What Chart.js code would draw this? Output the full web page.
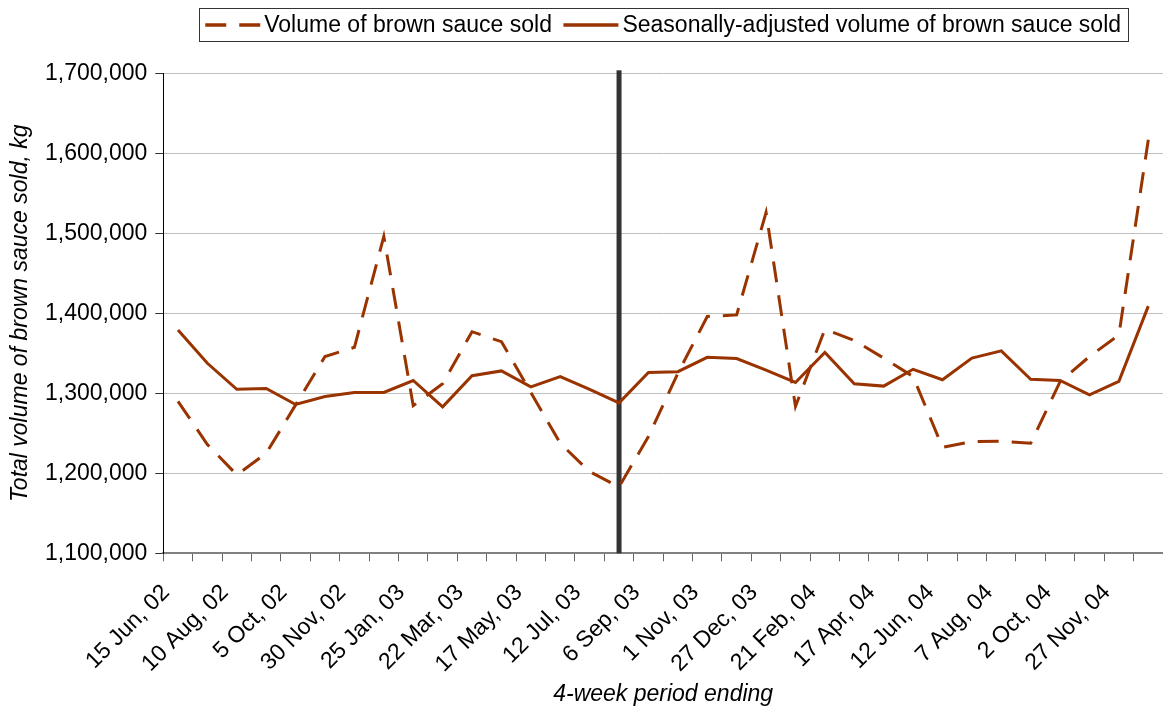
<!DOCTYPE html>
<html>
<head>
<meta charset="utf-8">
<script src="https://cdn.jsdelivr.net/npm/chart.js@4.4.1/dist/chart.umd.min.js"></script>
<style>
  html, body { margin: 0; padding: 0; background: #ffffff; }
  #wrap { width: 1163px; height: 709px; position: relative; }
</style>
</head>
<body>
<div id="wrap"><canvas id="c" width="1163" height="709"></canvas></div>
<script>
// ---- Data ----
const periods = [
  '15 Jun, 02', '13 Jul, 02', '10 Aug, 02', '7 Sep, 02', '5 Oct, 02', '2 Nov, 02',
  '30 Nov, 02', '28 Dec, 02', '25 Jan, 03', '22 Feb, 03', '22 Mar, 03', '19 Apr, 03',
  '17 May, 03', '14 Jun, 03', '12 Jul, 03', '9 Aug, 03', '6 Sep, 03', '4 Oct, 03',
  '1 Nov, 03', '29 Nov, 03', '27 Dec, 03', '24 Jan, 04', '21 Feb, 04', '20 Mar, 04',
  '17 Apr, 04', '15 May, 04', '12 Jun, 04', '10 Jul, 04', '7 Aug, 04', '4 Sep, 04',
  '2 Oct, 04', '30 Oct, 04', '27 Nov, 04', '25 Dec, 04'
];
const volumeSold = [
  1290000, 1236000, 1198000, 1225000, 1285500, 1346000, 1357500, 1496000, 1284500, 1312000,
  1377000, 1364500, 1301000, 1237500, 1202000, 1183000, 1246000, 1325000, 1396000, 1398000,
  1526000, 1283500, 1380000, 1366000, 1344000, 1321000, 1232500, 1239500, 1240000, 1237500,
  1314500, 1346000, 1373000, 1617000
];
const seasonallyAdjusted = [
  1379000, 1337500, 1305000, 1306000, 1286000, 1296000, 1301000, 1301000, 1316000, 1283000,
  1322000, 1328000, 1308000, 1321000, 1305000, 1288000, 1326000, 1327000, 1345000, 1343500,
  1329000, 1313500, 1351000, 1312000, 1309000, 1330000, 1317000, 1344000, 1353000, 1317500,
  1316000, 1298000, 1315000, 1409000
];
const seriesNames = ['Volume of brown sauce sold', 'Seasonally-adjusted volume of brown sauce sold'];
const yMin = 1100000, yMax = 1700000, yStep = 100000;
const markerIndex = 15; // thick vertical line position (category index)

// ---- Styling ----
const FONT = '"Liberation Sans", Arial, Helvetica, sans-serif';
const BROWN = '#993300';
Chart.defaults.font.family = FONT;
Chart.defaults.font.size = 23;
Chart.defaults.color = '#000000';

const markerLine = {
  id: 'markerLine',
  beforeDatasetsDraw(chart) {
    const ca = chart.chartArea;
    const x = chart.scales.x.getPixelForValue(markerIndex);
    const ctx = chart.ctx;
    ctx.save();
    ctx.fillStyle = '#333333';
    ctx.fillRect(x - 2.5, ca.top - 3, 5, ca.bottom - ca.top + 3);
    ctx.restore();
  }
};

const boxedLegend = {
  id: 'boxedLegend',
  afterDraw(chart) {
    const ctx = chart.ctx;
    const ds = chart.data.datasets;
    ctx.save();
    ctx.font = '23px ' + FONT;
    const sampleW = 55, sampleGap = 4, itemGap = 11.5;
    const widths = ds.map(d => ctx.measureText(d.label).width);
    const total = ds.length * (sampleW + sampleGap) + widths.reduce((a, b) => a + b, 0) + itemGap * (ds.length - 1);
    const ca = chart.chartArea;
    const cx = (ca.left + ca.right) / 2;
    let x = cx - total / 2;
    const cy = 25;
    ctx.strokeStyle = '#333333';
    ctx.lineWidth = 1;
    ctx.strokeRect(Math.round(x - 6.5) + 0.5, 8.5, Math.round(total + 13.5), 33);
    ds.forEach((d, i) => {
      ctx.save();
      ctx.strokeStyle = d.borderColor;
      ctx.lineWidth = 3.5;
      ctx.lineCap = 'butt';
      ctx.setLineDash(d.borderDash || []);
      ctx.beginPath();
      ctx.moveTo(x, cy);
      ctx.lineTo(x + sampleW, cy);
      ctx.stroke();
      ctx.restore();
      x += sampleW + sampleGap;
      ctx.fillStyle = '#000000';
      ctx.textBaseline = 'middle';
      ctx.textAlign = 'left';
      ctx.fillText(d.label, x, cy + 1);
      x += widths[i] + itemGap;
    });
    ctx.restore();
  }
};

new Chart(document.getElementById('c'), {
  type: 'line',
  data: {
    labels: periods,
    datasets: [
      {
        label: seriesNames[0],
        data: volumeSold,
        borderColor: BROWN,
        backgroundColor: BROWN,
        borderWidth: 3,
        borderDash: [21, 13],
        pointRadius: 0,
        tension: 0,
        fill: false
      },
      {
        label: seriesNames[1],
        data: seasonallyAdjusted,
        borderColor: BROWN,
        backgroundColor: BROWN,
        borderWidth: 3,
        pointRadius: 0,
        tension: 0,
        fill: false
      }
    ]
  },
  options: {
    responsive: false,
    animation: false,
    devicePixelRatio: 1,
    layout: { padding: { top: 73.3, left: 0, right: -2, bottom: 0 } },
    plugins: {
      legend: { display: false },
      tooltip: { enabled: false }
    },
    scales: {
      x: {
        type: 'category',
        offset: true,
        afterFit(scale) {
          scale.height = 155.7;
          scale.paddingLeft = 0;
          scale.paddingRight = 0;
        },
        grid: {
          offset: true,
          drawOnChartArea: false,
          drawTicks: true,
          tickLength: 8,
          tickColor: '#666666',
          tickWidth: 1
        },
        border: { display: true, color: '#808080', width: 2 },
        ticks: {
          autoSkip: false,
          minRotation: 45,
          maxRotation: 45,
          padding: 18,
          labelOffset: -12,
          font: { size: 23 },
          callback: (v, i) => (i % 2 === 0 ? periods[i] : '')
        },
        title: {
          display: true,
          text: '4-week period ending',
          font: { size: 23, style: 'italic' },
          padding: { top: 0, bottom: 1 }
        }
      },
      y: {
        min: yMin,
        max: yMax,
        afterFit(scale) { scale.width = 163.3; },
        grid: {
          color: '#c0c0c0',
          lineWidth: 1,
          drawTicks: true,
          tickLength: 8,
          tickColor: '#333333'
        },
        border: { display: true, color: '#000000', width: 1 },
        ticks: {
          stepSize: yStep,
          padding: 8,
          font: { size: 23 },
          callback: (v) => Number(v).toLocaleString('en-US')
        },
        title: {
          display: true,
          text: 'Total volume of brown sauce sold, kg',
          font: { size: 23, style: 'italic' },
          padding: { top: 7, bottom: 0 }
        }
      }
    }
  },
  plugins: [markerLine, boxedLegend]
});
</script>
</body>
</html>
